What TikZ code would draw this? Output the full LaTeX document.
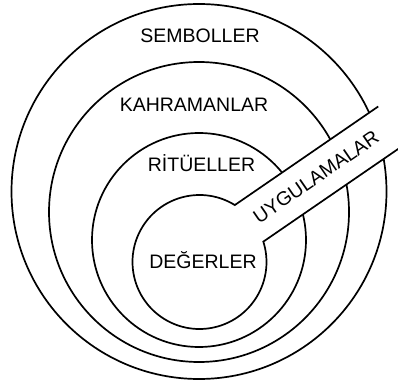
\documentclass[tikz,border=0pt]{standalone}
\usepackage{fontspec}
\setmainfont{Liberation Sans}
\usetikzlibrary{calc}

\begin{document}
\begin{tikzpicture}[x=1pt, y=1pt, line width=1.7pt, every node/.style={font=\fontsize{19.5}{22}\selectfont, inner sep=0pt}]
    \useasboundingbox (0,0) rectangle (398,383);
    \clip (0,0) rectangle (398,383);

    \coordinate (O1) at (199,191.5);
    \coordinate (O2) at (199,171);
    \coordinate (O3) at (199,143);
    \coordinate (O4) at (199.5,121);

    \coordinate (A) at ($(O4)+(58.2:67)$);
    \coordinate (B) at ($(O4)+(17.7:67)$);
    \coordinate (A2) at ($(A)+(34.5:174)$);
    \coordinate (B2) at ($(B)+(34.5:180)$);

    \draw (O1) circle (187.5);
    \draw (O2) circle (150);
    \draw (O3) circle (107);

    % band cut through the rings
    \fill[white] (A) -- (A2) -- (B2) -- (B) arc[start angle=17.7, end angle=58.2, radius=67] -- cycle;
    \draw (A2) -- (A) arc[start angle=58.2, end angle=377.7, radius=67] -- (B2);

    \node[anchor=base] (sembol) at (200,340.3) {SEMBOLLER};
    \node[anchor=base] (kahraman) at (194,271.3) {KAHRAMANLAR};
    \node[anchor=base] (ritue) at (201.5,211) {RİTÜELLER};
    \node[anchor=base] (deger) at (203,114.7) {DEĞERLER};
    \node[rotate=34.5] (uygula) at (316,206) {UYGULAMALAR};
\end{tikzpicture}
\end{document}
